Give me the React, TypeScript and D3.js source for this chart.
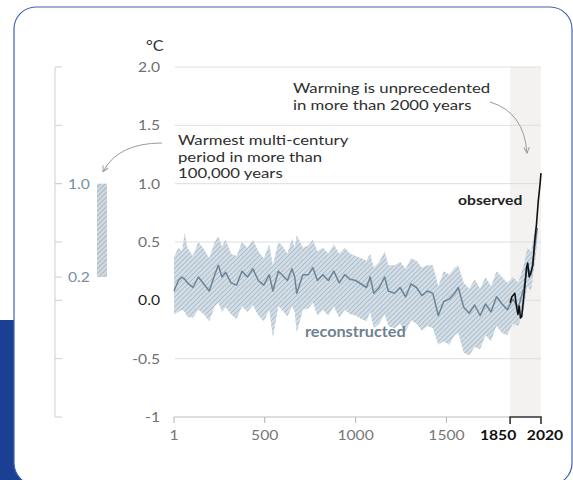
import React from 'react';
import { scaleLinear, area, line, curveLinear } from 'd3';

// reconstructed global surface temperature
const reconYears = [
  1, 25, 45, 60, 75, 105, 135, 165, 195, 225, 245, 265, 285, 315, 345, 375, 405, 435, 465, 495,
  525, 545, 575, 595, 625, 650, 665, 676, 710, 740, 765, 790, 820, 850, 880, 910, 940, 970, 1000,
  1030, 1060, 1080, 1100, 1130, 1160, 1180, 1215, 1245, 1275, 1305, 1335, 1365, 1395, 1425, 1455,
  1485, 1515, 1545, 1565, 1595, 1625, 1655, 1685, 1715, 1745, 1775, 1805, 1835, 1865, 1895, 1925,
  1945, 1965, 1985, 2000,
];
const reconMean = [
  0.08, 0.17, 0.2, 0.18, 0.15, 0.11, 0.2, 0.14, 0.08, 0.22, 0.3, 0.2, 0.24, 0.15, 0.13, 0.25, 0.2, 0.27, 0.17, 0.13,
  0.22, 0.08, 0.25, 0.22, 0.17, 0.27, 0.2, 0.06, 0.22, 0.22, 0.28, 0.17, 0.22, 0.17, 0.25, 0.15, 0.22, 0.18, 0.17,
  0.14, 0.11, 0.2, 0.06, 0.11, 0.2, 0.08, 0.06, 0.11, 0.03, 0.14, 0.11, 0.04, 0.08, 0.06, -0.13,
  -0.01, 0.01, 0.06, 0.11, -0.06, -0.11, -0.04, -0.13, -0.03, -0.1, 0.03, -0.03, -0.08, 0.01, -0.06, 0.1,
  0.28, 0.22, 0.45, 0.62,
];
const reconHigh = [
  0.37, 0.45, 0.42, 0.58, 0.45, 0.38, 0.5, 0.44, 0.36, 0.5, 0.55, 0.46, 0.52, 0.4, 0.38, 0.5, 0.45, 0.52, 0.42, 0.36,
  0.48, 0.3, 0.5, 0.47, 0.4, 0.53, 0.45, 0.56, 0.45, 0.47, 0.52, 0.42, 0.45, 0.4, 0.48, 0.4, 0.45, 0.4, 0.38,
  0.36, 0.34, 0.4, 0.28, 0.33, 0.42, 0.3, 0.3, 0.33, 0.27, 0.36, 0.34, 0.28, 0.3, 0.3, 0.12,
  0.25, 0.22, 0.28, 0.3, 0.15, 0.1, 0.18, 0.1, 0.2, 0.12, 0.25, 0.2, 0.15, 0.2, 0.15, 0.3,
  0.45, 0.42, 0.6, 0.7,
];
const reconLow = [
  -0.12, -0.1, -0.08, -0.1, -0.14, -0.15, -0.08, -0.12, -0.18, -0.05, -0.02, -0.1, -0.06, -0.12, -0.16, -0.05, -0.1, -0.04, -0.13, -0.18,
  -0.08, -0.32, -0.05, -0.08, -0.14, -0.05, -0.1, -0.28, -0.08, -0.07, -0.02, -0.13, -0.08, -0.13, -0.05, -0.15, -0.08, -0.12, -0.13,
  -0.16, -0.18, -0.1, -0.24, -0.2, -0.12, -0.22, -0.24, -0.2, -0.27, -0.17, -0.2, -0.26, -0.22, -0.24, -0.38,
  -0.35, -0.38, -0.3, -0.28, -0.45, -0.47, -0.4, -0.42, -0.3, -0.35, -0.22, -0.28, -0.3, -0.2, -0.22, -0.08,
  0.12, 0.08, 0.3, 0.5,
];

// observed record
const obsYears = [1850, 1860, 1876, 1885, 1893, 1900, 1907, 1914, 1920, 1930, 1940, 1947, 1955, 1963, 1975, 1985, 1995, 2005, 2015, 2020];
const obsValues = [-0.02, 0.03, 0.06, -0.05, -0.12, -0.05, -0.15, -0.14, -0.05, 0.1, 0.28, 0.32, 0.2, 0.23, 0.3, 0.5, 0.65, 0.85, 1.0, 1.09];

const yTicks = [2.0, 1.5, 1.0, 0.5, 0.0, -0.5, -1];
const yTickLabels = ['2.0', '1.5', '1.0', '0.5', '0.0', '-0.5', '-1'];
const xTicks = [1, 500, 1000, 1500];
const xBoldTicks = [1850, 2020];
const warmestRange = [0.2, 1.0];
const warmestLabels = ['0.2', '1.0'];

const FONT = 'Lato, "Open Sans", sans-serif';

const T = ({ x, y, anchor = 'start', size = 14, weight = 400, fill = '#333', sx = 1.12, children }: any) => (
  <text
    transform={`translate(${x},${y}) scale(${sx},1)`}
    textAnchor={anchor}
    fontSize={size}
    fontWeight={weight}
    fill={fill}
    fontFamily={FONT}
  >
    {children}
  </text>
);

const App = () => {
  const W = 573;
  const H = 480;
  const x = scaleLinear().domain([1, 2020]).range([174, 541]);
  const y = scaleLinear().domain([-1, 2]).range([417, 67]);

  const band = area<number>()
    .x((d, i) => x(reconYears[i]))
    .y0((d, i) => y(reconLow[i]))
    .y1((d) => y(d))
    .curve(curveLinear);
  const recon = line<number>()
    .x((d, i) => x(reconYears[i]))
    .y((d) => y(d));
  const observed = line<number>()
    .x((d, i) => x(obsYears[i]))
    .y((d) => y(d));

  const axisY = y(-1);
  const leftAxisX = 55;
  const barX = 97;

  return (
    <svg width={W} height={H} style={{ position: 'absolute', left: 0, top: 0 }}>
      <defs>
        <pattern id="hatch" width="3.4" height="3.4" patternUnits="userSpaceOnUse" patternTransform="rotate(45)">
          <rect width="3.4" height="3.4" fill="#d2dde5" />
          <line x1="0" y1="0" x2="0" y2="3.4" stroke="#a6b8c6" strokeWidth="1.6" />
        </pattern>
        <pattern id="hatchBar" width="3.4" height="3.4" patternUnits="userSpaceOnUse" patternTransform="rotate(45)">
          <rect width="3.4" height="3.4" fill="#cfd8df" />
          <line x1="0" y1="0" x2="0" y2="3.4" stroke="#9fb0bd" strokeWidth="1.5" />
        </pattern>
        <marker id="arrow" viewBox="0 0 10 10" refX="9" refY="5" markerWidth="7" markerHeight="7" orient="auto">
          <path d="M1,1 L9,5 L1,9" fill="none" stroke="#9a9a9a" strokeWidth="1.4" />
        </marker>
      </defs>

      {/* page background and card */}
      <rect x={0} y={0} width={W} height={H} fill="#ffffff" />
      <rect x={0} y={320} width={40} height={160} fill="#1b3f93" />
      <rect x={14} y={7} width={558} height={478} rx={22} fill="#ffffff" stroke="#3d62b3" strokeWidth={1.2} />

      {/* observed period shading */}
      <rect x={x(1850)} y={y(2)} width={x(2020) - x(1850)} height={y(-1) - y(2)} fill="#f3f2f1" />

      {/* gridlines */}
      {yTicks.filter((t) => t > -1).map((t) => (
        <line key={t} x1={175} x2={x(2020)} y1={y(t)} y2={y(t)} stroke="#dedede" strokeWidth={1} />
      ))}

      {/* y labels */}
      {yTicks.map((t, i) => (
        <T key={t} x={160} y={y(t) + 5} anchor="end" size={14} fill={t === 0 ? '#222' : '#707070'}>
          {yTickLabels[i]}
        </T>
      ))}
      <T x={146} y={51} size={14.5} fill="#333">°C</T>

      {/* left comparison axis */}
      <line x1={leftAxisX} x2={leftAxisX} y1={y(2)} y2={y(-1)} stroke="#cfcfcf" strokeWidth={1} />
      {[...yTicks, ...warmestRange].map((t) => (
        <line key={'lt' + t} x1={leftAxisX} x2={leftAxisX + 7} y1={y(t)} y2={y(t)} stroke="#cfcfcf" strokeWidth={1} />
      ))}
      {warmestRange.map((t, i) => (
        <T key={'wl' + t} x={68} y={y(t) + 5} size={14} fill="#7890a1">
          {warmestLabels[i]}
        </T>
      ))}
      <rect x={barX} y={y(warmestRange[1])} width={10} height={y(warmestRange[0]) - y(warmestRange[1])} fill="url(#hatchBar)" />

      {/* x axis */}
      <line x1={x(1)} x2={x(1850)} y1={axisY} y2={axisY} stroke="#bdbdbd" strokeWidth={1.2} />
      {xTicks.map((t) => (
        <g key={t}>
          <line x1={x(t)} x2={x(t)} y1={axisY} y2={axisY + 6} stroke="#bdbdbd" strokeWidth={1.2} />
          <T x={x(t)} y={440} anchor="middle" size={14} fill="#777">
            {t}
          </T>
        </g>
      ))}
      <path
        d={`M${x(1850)},${axisY + 7}V${axisY}H${x(2020)}V${axisY + 7}`}
        fill="none"
        stroke="#333"
        strokeWidth={1.6}
      />
      <T x={x(xBoldTicks[0]) - 12} y={440} anchor="middle" size={14} weight={700} fill="#111">
        {xBoldTicks[0]}
      </T>
      <T x={x(xBoldTicks[1]) + 4} y={440} anchor="middle" size={14} weight={700} fill="#111">
        {xBoldTicks[1]}
      </T>

      {/* data */}
      <path d={band(reconHigh) || ''} fill="url(#hatch)" />
      <path d={recon(reconMean) || ''} fill="none" stroke="#6c8497" strokeWidth={1.5} strokeLinejoin="round" />
      <path d={observed(obsValues) || ''} fill="none" stroke="#111" strokeWidth={1.6} strokeLinejoin="round" />

      {/* annotations */}
      <T x={178} y={145} size={13.5} sx={1.24} fill="#2e2e2e">Warmest multi-century</T>
      <T x={178} y={161.5} size={13.5} sx={1.24} fill="#2e2e2e">period in more than</T>
      <T x={178} y={178} size={13.5} sx={1.24} fill="#2e2e2e">100,000 years</T>
      <path d={`M162,143 Q118,143 ${barX + 6},${y(warmestRange[1]) - 12}`} fill="none" stroke="#9a9a9a" strokeWidth={1} markerEnd="url(#arrow)" />

      <T x={293} y={93} size={13.5} sx={1.24} fill="#2e2e2e">Warming is unprecedented</T>
      <T x={293} y={110} size={13.5} sx={1.24} fill="#2e2e2e">in more than 2000 years</T>
      <path d="M490,102 Q524,112 527,153" fill="none" stroke="#9a9a9a" strokeWidth={1} markerEnd="url(#arrow)" />

      <T x={458} y={205} weight={700} fill="#222">observed</T>
      <T x={305} y={337} size={14.5} weight={700} fill="#6d8292">reconstructed</T>
    </svg>
  );
};

export default App;
